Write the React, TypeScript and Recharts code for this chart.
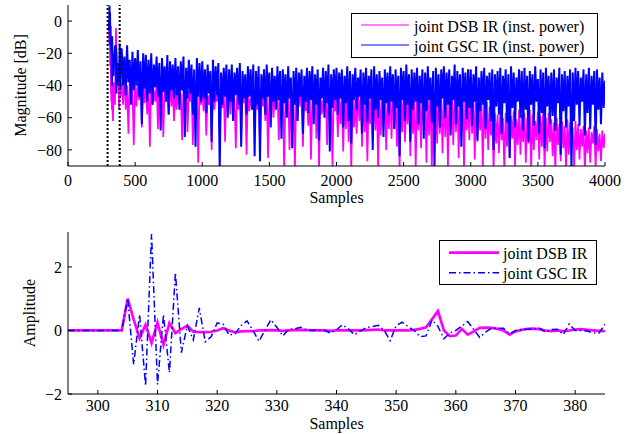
import React from 'react';
import { LineChart, Line, XAxis, YAxis, ReferenceLine, Legend } from 'recharts';

const FONT = '"Liberation Serif", "Times New Roman", Times, serif';
const DSB_COLOR = '#ff00ff';
const GSC_COLOR = '#0000ff';

// ---------- top panel: instantaneous power in dB ----------
const earlySamples = [
  305, 306, 307, 308, 309, 310, 311, 312, 313, 314, 315, 316, 317, 318, 319, 320,
  321, 322, 323, 324, 325, 326, 327, 328, 329, 330,
  335, 340, 345, 350, 355, 357, 360, 365, 370, 375, 380, 385, 390, 395,
];
const dsbEarlyDb = [
  0, -9.1, -12.4, -14.9, -8.2, -12, -6.9, -12.8, -21.9, -28, -16.5, -28, -26, -26, -28, -45,
  -23, -50, -24.4, -30, -34, -34, -55, -48, -40, -52,
  -62, -38, -45, -52, -20, -4.3, -16, -22, -40, -35, -55, -33, -48, -40,
];
const gscEarlyDb = [
  0, 0.6, -5.8, 4.9, 9.7, 4.6, -5.4, 2.5, 5.3, -3.1, -14.9, -9.4, -2.9, -8.9, -14.4, -12.4,
  -14, -16.5, -20, -16.5, -10.5, -35, -9.4, -40, -9.4, -20,
  -34, -33, -21, -16, -15, -17.7, -45, -26, -40, -26, -38, -14, -42, -18,
];
const lateStartSample = 400;
const lateStepSamples = 10;
const dsbLateDb = [
  -38, -52, -33, -55, -40, -70, -35, -50, -42, -77, -36, -53, -39, -49, -34, -66, -41, -51, -37, -58,
  -40, -78, -36, -52, -43, -50, -38, -67, -35, -54, -42, -72, -39, -49, -44, -58, -37, -53, -41, -62,
  -43, -55, -38, -51, -45, -74, -40, -53, -36, -69, -44, -50, -39, -77, -46, -54, -41, -88, -38, -52,
  -44, -56, -40, -71, -46, -52, -42, -80, -38, -55, -45, -50, -41, -70, -47, -54, -43, -75, -40, -53,
  -45, -58, -42, -52, -47, -79, -43, -55, -39, -72, -46, -51, -44, -83, -41, -56, -48, -53, -43, -66,
  -44, -55, -47, -76, -42, -53, -46, -62, -40, -85, -45, -54, -43, -60, -48, -52, -41, -74, -46, -56,
  -43, -92, -47, -57, -42, -80, -45, -54, -49, -93, -44, -62, -41, -53, -46, -78, -43, -56, -48, -65,
  -44, -86, -47, -55, -42, -73, -46, -92, -43, -58, -49, -54, -45, -77, -41, -60, -47, -90, -44, -56,
  -46, -72, -43, -64, -48, -81, -45, -67, -42, -75, -47, -93, -44, -66, -49, -70, -43, -62, -46, -78,
  -44, -69, -48, -87, -45, -64, -42, -74, -47, -68, -43, -92, -46, -71, -49, -65, -44, -80, -47, -67,
  -45, -73, -42, -66, -48, -78, -44, -93, -46, -69, -43, -75, -49, -64, -45, -84, -42, -70, -47, -92,
  -44, -68, -47, -79, -43, -65, -48, -88, -45, -71, -42, -93, -46, -67, -49, -76, -44, -70, -47, -82,
  -45, -72, -43, -90, -48, -66, -44, -77, -46, -69, -42, -85, -47, -71, -45, -93, -43, -68, -48, -74,
  -44, -70, -47, -86, -43, -75, -46, -68, -48, -92, -45, -73, -50, -80, -53, -71, -56, -93, -57, -76,
  -58, -82, -55, -74, -60, -93, -57, -78, -54, -85, -59, -73, -56, -90, -61, -77, -55, -83, -58, -75,
  -57, -88, -60, -76, -55, -93, -58, -80, -62, -74, -56, -86, -59, -78, -54, -92, -60, -81, -57, -75,
  -61, -84, -63, -93, -60, -77, -64, -87, -62, -79, -65, -92, -61, -83, -63, -76, -66, -93, -62, -80,
  -64, -86, -67, -78, -65, -93, -68, -82, -66, -88, -69, -76, -65, -92, -67, -81, -70, -87, -68, -79,
  -70,
];
const gscLateDb = [
  -17, -40, -22, -46, -15, -38, -24, -52, -19, -43, -23, -40, -18, -47, -25, -64, -20, -42, -21, -50,
  -24, -45, -20, -52, -27, -41, -22, -47, -26, -68, -23, -44, -28, -50, -21, -58, -25, -43, -27, -48,
  -23, -46, -28, -55, -25, -43, -22, -72, -29, -48, -24, -45, -27, -58, -30, -78, -23, -47, -26, -50,
  -25, -48, -30, -57, -27, -45, -31, -75, -24, -50, -28, -46, -26, -93, -32, -52, -29, -47, -27, -60,
  -30, -50, -27, -62, -32, -46, -29, -52, -26, -78, -31, -48, -33, -58, -28, -47, -30, -55, -27, -84,
  -31, -52, -28, -87, -33, -48, -30, -58, -27, -47, -32, -66, -29, -50, -34, -55, -28, -49, -31, -73,
  -30, -51, -33, -60, -28, -48, -35, -79, -31, -52, -29, -62, -32, -47, -30, -70, -34, -50, -29, -57,
  -31, -49, -28, -64, -33, -52, -30, -74, -35, -48, -29, -60, -31, -51, -27, -81, -33, -54, -30, -49,
  -29, -58, -32, -48, -30, -66, -34, -51, -28, -62, -31, -76, -33, -49, -29, -55, -35, -47, -30, -70,
  -32, -52, -29, -63, -34, -48, -30, -80, -28, -55, -33, -60, -31, -49, -35, -72, -30, -51, -32, -58,
  -28, -50, -33, -67, -30, -54, -34, -84, -29, -49, -31, -62, -27, -52, -33, -75, -30, -55, -32, -50,
  -29, -64, -34, -51, -30, -73, -32, -56, -28, -49, -35, -63, -31, -92, -29, -53, -33, -66, -30, -48,
  -28, -60, -32, -52, -30, -71, -34, -49, -27, -64, -31, -53, -33, -78, -29, -50, -32, -61, -30, -54,
  -30, -65, -33, -50, -28, -74, -35, -56, -31, -52, -29, -67, -34, -49, -32, -62, -30, -80, -33, -53,
  -31, -58, -29, -70, -34, -51, -30, -63, -33, -85, -28, -54, -32, -66, -35, -50, -30, -60, -31, -68,
  -29, -55, -34, -75, -31, -52, -33, -65, -28, -50, -36, -70, -30, -57, -32, -79, -29, -53, -34, -64,
  -32, -59, -30, -68, -35, -51, -29, -83, -33, -56, -31, -66, -34, -53, -30, -93, -32, -62, -29, -52,
  -31, -65, -35, -50, -30, -71, -33, -57, -29, -67, -34, -52, -31, -77, -30, -55, -35, -64, -32, -54,
  -37,
];
const topXTicks = [0, 500, 1000, 1500, 2000, 2500, 3000, 3500, 4000];
const topYTicks = [-80, -60, -40, -20, 0];
const topYDomain = [-90, 10];
const zoomWindow = [295, 385];

// ---------- bottom panel: impulse responses around the direct path ----------
const bottomStartSample = 295;
const dsbIr = [
  0, 0, 0, 0, 0, 0, 0, 0, 0, 0,
  1.0, 0.35, -0.24, 0.18, -0.39, 0.25, -0.45, 0.23, -0.08, 0.04,
  0.15, -0.04, -0.05, -0.05, -0.04, 0.0, 0.07, 0.0, -0.06, -0.03,
  -0.02, -0.02, 0.0, 0.0, 0.01, 0.0, -0.01, 0.0, 0.01, 0.02,
  0.01, 0.0, 0.0, 0.0, -0.01, 0.0, 0.0, 0.0, 0.0, 0.0,
  0.01, 0.02, 0.03, 0.0, 0.0, 0.0, 0.0, 0.0, 0.02, 0.05,
  0.1, 0.35, 0.61, 0.0, -0.18, -0.16, 0.05, -0.13, -0.03, 0.08,
  0.09, 0.08, 0.05, 0.0, -0.13, -0.03, 0.02, 0.05, 0.06, 0.04,
  0.0, -0.02, 0.0, -0.02, 0.0, 0.03, 0.04, 0.02, 0.0, -0.01,
  -0.02,
];
const gscIr = [
  0, 0, 0, 0, 0, 0, 0, 0, 0, 0,
  1.0, -1.07, 0.5, -1.75, 3.04, -1.7, 0.5, -1.33, 1.82, -0.7,
  0.15, -0.3, 0.71, -0.36, -0.19, 0.24, 0.2, -0.15, -0.1, 0.15,
  0.3, 0.0, -0.34, 0.0, 0.34, 0.1, -0.17, 0.04, 0.05, 0.1,
  0.02, 0.0, 0.02, 0.0, -0.08, 0.02, 0.18, 0.05, -0.13, -0.02,
  0.09, 0.12, 0.16, 0.0, -0.32, 0.15, 0.26, 0.12, 0.0, -0.19,
  -0.17, 0.33, 0.13, -0.26, -0.08, 0.0, 0.14, 0.28, 0.03, -0.22,
  -0.05, 0.07, 0.07, 0.07, -0.11, 0.0, 0.03, 0.04, 0.05, 0.07,
  -0.05, 0.03, 0.04, -0.13, 0.2, 0.0, 0.0, -0.02, -0.08, -0.08,
  0.2,
];
const bottomXTicks = [300, 310, 320, 330, 340, 350, 360, 370, 380];
const bottomYTicks = [-2, 0, 2];
const bottomYDomain = [-2, 3.1];

const topLegendItems = [
  { name: 'joint DSB IR (inst. power)', color: DSB_COLOR, width: 1 },
  { name: 'joint GSC IR (inst. power)', color: GSC_COLOR, width: 1 },
];
const bottomLegendItems = [
  { name: 'joint DSB IR', color: DSB_COLOR, width: 2.7 },
  { name: 'joint GSC IR', color: GSC_COLOR, width: 1.5, dash: '7 3 1.5 3' },
];

// ---------- tables built from the arrays ----------
const topData = [
  ...earlySamples.map((s, i) => ({ s, dsb: dsbEarlyDb[i], gsc: gscEarlyDb[i] })),
  ...gscLateDb.map((g, i) => ({ s: lateStartSample + i * lateStepSamples, dsb: dsbLateDb[i], gsc: g })),
];
const bottomData = dsbIr.map((v, i) => ({ s: bottomStartSample + i, dsb: v, gsc: gscIr[i] }));

const fmt = (v: number) => String(v).replace('-', '\u2212');
const tickStyle = { fill: '#000', fontSize: 16, fontFamily: FONT, style: { fontFamily: FONT } };
const axisStroke = { stroke: '#000', strokeWidth: 1 };

type Item = { name: string; color: string; width: number; dash?: string };

function LegendBox(props: {
  items: Item[]; width: number; height: number; lineX1: number; lineX2: number; textX: number; rowY: number[];
}) {
  const { items, width, height, lineX1, lineX2, textX, rowY } = props;
  return (
    <svg width={width} height={height} style={{ display: 'block' }}>
      <rect x={0.5} y={0.5} width={width - 1} height={height - 1} fill="#fff" stroke="#000" strokeWidth={1} />
      {items.map((it, i) => (
        <g key={it.name}>
          <line x1={lineX1} x2={lineX2} y1={rowY[i]} y2={rowY[i]} stroke={it.color} strokeWidth={it.width}
            strokeDasharray={it.dash} />
          <text x={textX} y={rowY[i] + 6.5} fontFamily={FONT} fontSize={16} fill="#000">{it.name}</text>
        </g>
      ))}
    </svg>
  );
}

const TOP = { w: 638, h: 215, margin: { top: 5, right: 33, bottom: 19, left: 0 } };
const BOT = { w: 638, h: 219, margin: { top: 17, right: 33, bottom: 10, left: 0 } };

export default function App() {
  return (
    <div style={{ position: 'absolute', left: 0, top: 0, width: 638, height: 434, background: '#fff', overflow: 'hidden',
      fontFamily: FONT }}>
      <LineChart width={TOP.w} height={TOP.h} data={topData} margin={TOP.margin} style={{ fontFamily: FONT }}>
        <XAxis type="number" dataKey="s" domain={[0, 4000]} ticks={topXTicks} interval={0} allowDataOverflow
          tick={tickStyle} tickFormatter={fmt} axisLine={axisStroke} tickLine={axisStroke} tickSize={-4} tickMargin={13}
          height={30}
          label={() => (
            <text x={336.5} y={203} textAnchor="middle" fontFamily={FONT} fontSize={16} fill="#000">Samples</text>
          )} />
        <YAxis type="number" domain={topYDomain} ticks={topYTicks} interval={0} allowDataOverflow width={68}
          tick={tickStyle} tickFormatter={fmt} axisLine={axisStroke} tickLine={axisStroke} tickSize={-4} tickMargin={10}
          label={() => (
            <text x={26} y={85.5} transform="rotate(-90 26 85.5)" textAnchor="middle" fontFamily={FONT} fontSize={16}
              fill="#000">Magnitude [dB]</text>
          )} />
        <Line type="linear" dataKey="dsb" name={topLegendItems[0].name} stroke={DSB_COLOR} strokeWidth={1.7} dot={false}
          isAnimationActive={false} />
        <Line type="linear" dataKey="gsc" name={topLegendItems[1].name} stroke={GSC_COLOR} strokeWidth={2} dot={false}
          isAnimationActive={false} />
        <ReferenceLine x={zoomWindow[0]} stroke="#000" strokeWidth={2} strokeDasharray="2 2" />
        <ReferenceLine x={zoomWindow[1]} stroke="#000" strokeWidth={2} strokeDasharray="2 2" />
        <Legend layout="vertical" align="center" verticalAlign="middle"
          wrapperStyle={{ left: 351, top: 13, width: 247, height: 45 }}
          content={() => (
            <LegendBox items={topLegendItems} width={247} height={45} lineX1={10} lineX2={58} textX={63} rowY={[12, 32]} />
          )} />
      </LineChart>
      <LineChart width={BOT.w} height={BOT.h} data={bottomData} margin={BOT.margin} style={{ fontFamily: FONT }}>
        <XAxis type="number" dataKey="s" domain={zoomWindow} ticks={bottomXTicks} interval={0} allowDataOverflow
          tick={tickStyle} tickFormatter={fmt} axisLine={axisStroke} tickLine={axisStroke} tickSize={-4} tickMargin={10}
          height={30}
          label={() => (
            <text x={336.5} y={214} textAnchor="middle" fontFamily={FONT} fontSize={16} fill="#000">Samples</text>
          )} />
        <YAxis type="number" domain={bottomYDomain} ticks={bottomYTicks} interval={0} allowDataOverflow width={68}
          tick={tickStyle} tickFormatter={fmt} axisLine={axisStroke} tickLine={axisStroke} tickSize={-4} tickMargin={10}
          label={() => (
            <text x={35} y={98} transform="rotate(-90 35 98)" textAnchor="middle" fontFamily={FONT} fontSize={16}
              fill="#000">Amplitude</text>
          )} />
        <Line type="linear" dataKey="dsb" name={bottomLegendItems[0].name} stroke={DSB_COLOR} strokeWidth={2.7} dot={false}
          isAnimationActive={false} />
        <Line type="linear" dataKey="gsc" name={bottomLegendItems[1].name} stroke={GSC_COLOR} strokeWidth={1.5}
          strokeDasharray="7 3 1.5 3" dot={false} isAnimationActive={false} />
        <Legend layout="vertical" align="center" verticalAlign="middle"
          wrapperStyle={{ left: 439, top: 25, width: 158, height: 45 }}
          content={() => (
            <LegendBox items={bottomLegendItems} width={158} height={45} lineX1={10} lineX2={60} textX={64}
              rowY={[12.7, 32.7]} />
          )} />
      </LineChart>
    </div>
  );
}
